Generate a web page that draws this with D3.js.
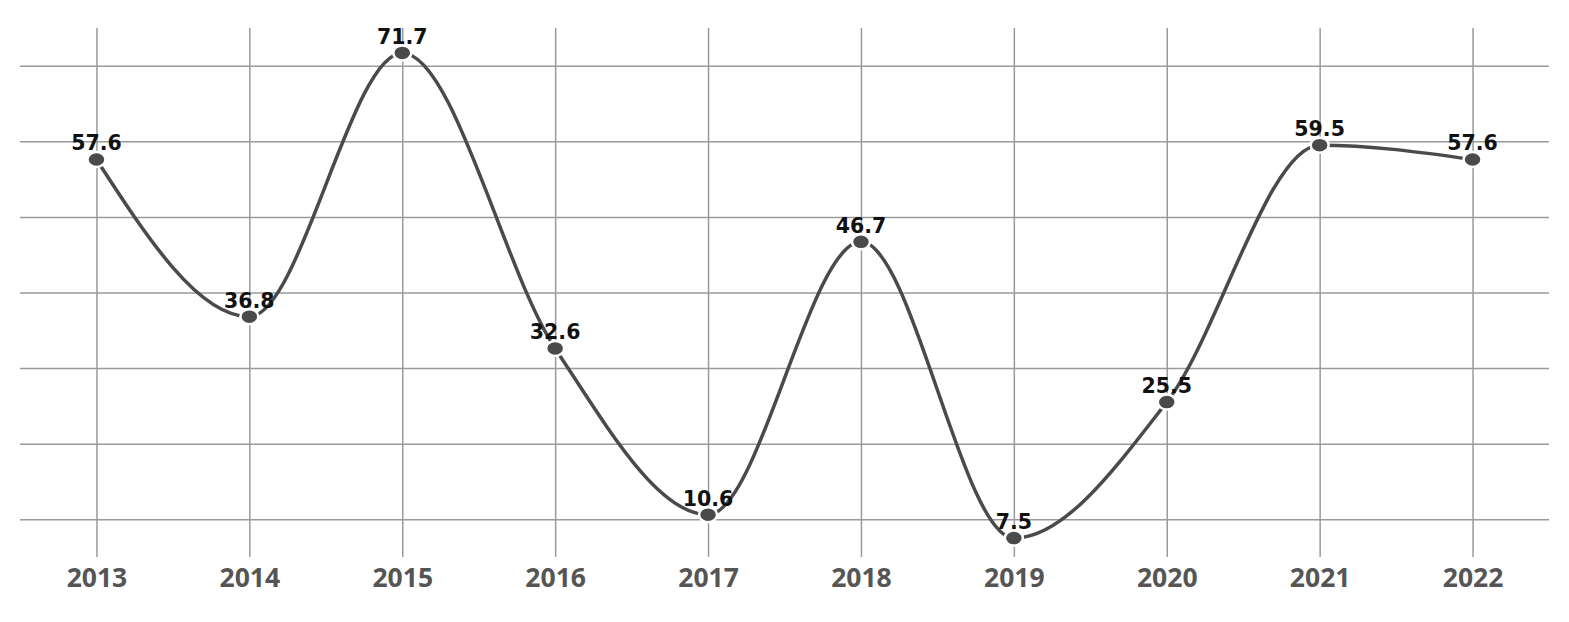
<!DOCTYPE html>
<html>
<head>
<meta charset="utf-8">
<script src="https://cdn.jsdelivr.net/npm/d3@7"></script>
<style>
  body { margin: 0; background: #fff; }
  svg { display: block; }
</style>
</head>
<body>
<script>
var years = ["2013", "2014", "2015", "2016", "2017", "2018", "2019", "2020", "2021", "2022"];
var values = [57.6, 36.8, 71.7, 32.6, 10.6, 46.7, 7.5, 25.5, 59.5, 57.6];
var gridTicks = [10, 20, 30, 40, 50, 60, 70];

var width = 1569;
var height = 622;
var plotLeft = 20, plotRight = 1549, plotTop = 28, plotBottom = 557;

var svg = d3.select("body")
  .append("svg")
  .attr("width", width)
  .attr("height", height);

var x = d3.scalePoint()
  .domain(years)
  .range([plotLeft, plotRight])
  .padding(0.5);

var y = d3.scaleLinear()
  .domain([5, 75])
  .range([plotBottom, plotTop]);

// horizontal grid
var yGrid = svg.append("g")
  .attr("transform", "translate(" + plotLeft + ",0)")
  .call(d3.axisLeft(y).tickValues(gridTicks).tickSize(-(plotRight - plotLeft)).tickFormat(""));
yGrid.select(".domain").remove();
yGrid.selectAll("line").attr("stroke", "#9a9a9a").attr("stroke-width", 1.5);

// vertical grid + year labels
var xAxis = svg.append("g")
  .attr("transform", "translate(0," + plotBottom + ")")
  .call(d3.axisBottom(x).tickSize(-(plotBottom - plotTop)).tickPadding(11));
xAxis.select(".domain").remove();
xAxis.selectAll("line").attr("stroke", "#9a9a9a").attr("stroke-width", 1.5);
xAxis.selectAll("text")
  .attr("font-family", "'Open Sans', 'Noto Sans', sans-serif")
  .attr("font-size", "26.5px")
  .attr("font-weight", "bold")
  .attr("fill", "#555");

var points = years.map(function(d, i) { return { year: d, value: values[i] }; });

var line = d3.line()
  .x(function(d) { return x(d.year); })
  .y(function(d) { return y(d.value); })
  .curve(d3.curveMonotoneX);

svg.append("path")
  .datum(points)
  .attr("d", line)
  .attr("fill", "none")
  .attr("stroke", "#4a4a4a")
  .attr("stroke-width", 3.5);

svg.selectAll("ellipse.dot")
  .data(points)
  .enter()
  .append("ellipse")
  .attr("class", "dot")
  .attr("cx", function(d) { return x(d.year); })
  .attr("cy", function(d) { return y(d.value); })
  .attr("rx", 9)
  .attr("ry", 7.5)
  .attr("fill", "#4a4a4a")
  .attr("stroke", "#fff")
  .attr("stroke-width", 2.5);

svg.selectAll("text.val")
  .data(points)
  .enter()
  .append("text")
  .attr("class", "val")
  .text(function(d) { return d.value; })
  .attr("x", function(d) { return x(d.year); })
  .attr("y", function(d) { return y(d.value) - 9; })
  .attr("font-family", "'DejaVu Sans', sans-serif")
  .attr("font-size", "20.5px")
  .attr("font-weight", "bold")
  .attr("fill", "#111")
  .attr("text-anchor", "middle");
</script>
</body>
</html>
